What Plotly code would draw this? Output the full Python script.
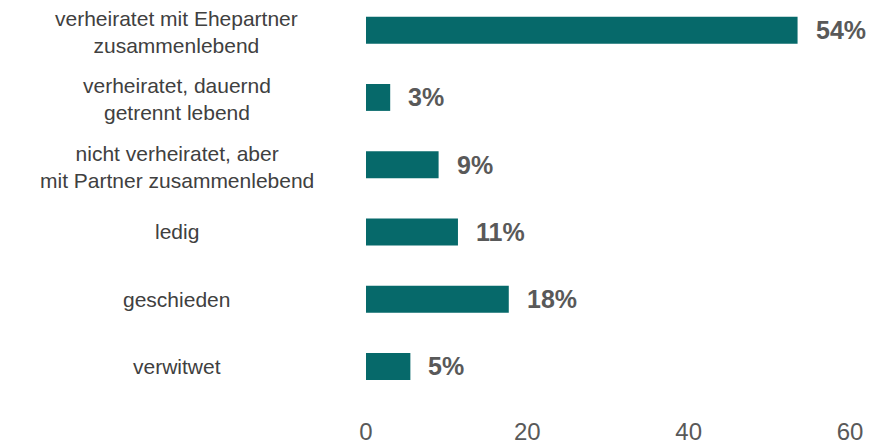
import plotly.graph_objects as go

categories = [
    "verheiratet mit Ehepartner<br>zusammenlebend",
    "verheiratet, dauernd<br>getrennt lebend",
    "nicht verheiratet, aber<br>mit Partner zusammenlebend",
    "ledig",
    "geschieden",
    "verwitwet",
]
values = [53.5, 3.0, 9.0, 11.4, 17.7, 5.5]
value_labels = ["54%", "3%", "9%", "11%", "18%", "5%"]
x_ticks = [0, 20, 40, 60]

BAR_COLOR = "#06696A"
FONT = "Liberation Sans, Arial, sans-serif"

fig = go.Figure(
    go.Bar(
        x=values,
        y=categories,
        orientation="h",
        marker={"color": BAR_COLOR, "line": {"width": 0}},
        width=0.4,
        hoverinfo="skip",
    )
)

# category labels, centred to the left of the plot
for cat in categories:
    fig.add_annotation(
        x=-0.3905, xref="paper", y=cat, yref="y",
        text=cat, showarrow=False, xanchor="center", align="center",
        yshift=-2 if "<br>" in cat else 0,
        font={"family": FONT, "size": 21, "color": "#404040"},
    )

# bold value labels next to each bar
for cat, val, lab in zip(categories, values, value_labels):
    fig.add_annotation(
        x=val, y=cat, text=f"<b>{lab}</b>", showarrow=False,
        xanchor="left", xshift=16,
        font={"family": FONT, "size": 25, "color": "#595959"},
    )

# page body has an 8px margin, so the figure is 8px smaller each way
fig.update_layout(
    width=877,
    height=437,
    margin={"l": 358, "r": 35, "t": 0, "b": 40},
    plot_bgcolor="white",
    paper_bgcolor="white",
    showlegend=False,
    font={"family": FONT},
)
fig.update_xaxes(
    range=[0, 60],
    tickvals=x_ticks,
    showgrid=False,
    zeroline=False,
    showline=False,
    ticks="",
    ticklabelstandoff=12,
    tickfont={"family": FONT, "size": 24, "color": "#595959"},
)
fig.update_yaxes(
    type="category",
    range=[5.543, -0.330],
    showticklabels=False,
    showgrid=False,
    zeroline=False,
    showline=False,
)

fig.write_html("out.html")
